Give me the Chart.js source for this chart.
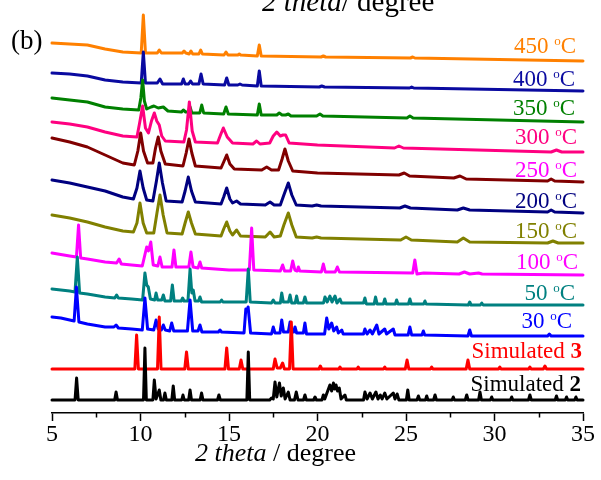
<!DOCTYPE html>
<html>
<head>
<meta charset="utf-8">
<script src="https://cdn.jsdelivr.net/npm/chart.js@4.4.1/dist/chart.umd.min.js"></script>
<style>
  html, body { margin: 0; padding: 0; background: #ffffff; }
  canvas { display: block; }
</style>
</head>
<body>
<canvas id="c" width="601" height="480"></canvas>
<script>
// PXRD patterns, stacked with a vertical offset (intensity in a.u.)
// each pattern is a list of [2theta, intensity] vertices

const xTickLabels = [5, 10, 15, 20, 25, 30, 35];

const sim2 = [
  [5,13],[6.3,13],[6.39,35],[6.48,13],
  [8.54,13],[8.62,21],[8.7,13],
  [10.17,13],[10.25,65],[10.33,13],
  [10.7,13],[10.78,33],[10.88,14],[11.06,23],[11.15,13],[11.3,13],[11.38,20],[11.46,13],
  [11.77,13],[11.85,27],[11.93,13],
  [12.33,13],[12.4,18],[12.47,13],[12.72,13],[12.8,23],[12.88,13],
  [13.37,13],[13.45,20],[13.53,13],
  [14.35,13],[14.43,18],[14.51,13],
  [16.01,13],[16.09,61],[16.17,13],
  [17.3,13],[17.4,15],[17.5,14],[17.6,31],[17.7,16],[17.85,30],[17.95,17],[18.07,25],[18.17,14],[18.35,21],[18.45,13],[18.7,13],[18.8,21],[18.9,13],
  [19.21,13],[19.29,18],[19.37,13],
  [19.78,13],[19.86,16],[19.94,13],
  [20.25,13],[20.33,18],[20.41,14],[20.7,28],[20.8,22],[20.9,30],[20.97,24],[21.05,28],[21.13,22],[21.23,25],[21.33,14],[21.55,18],[21.63,13],
  [22.6,13],[22.68,21],[22.8,14],[22.97,20],[23.1,14],[23.3,21],[23.42,14],[23.55,18],[23.65,14],[23.8,20],[23.92,14],[24.28,20],[24.38,14],[24.5,19],[24.6,13],
  [25.02,13],[25.1,23],[25.18,13],
  [25.62,13],[25.7,17],[25.78,13],
  [26.1,13],[26.17,17],[26.24,13],
  [26.56,13],[26.64,18],[26.72,13],
  [27.6,13],[27.67,16],[27.74,13],
  [28.35,13],[28.43,18],[28.51,13],
  [29.1,13],[29.18,21],[29.26,13],
  [29.77,13],[29.84,16],[29.91,13],
  [30.9,13],[30.97,16],[31.04,13],
  [31.92,13],[32.0,18],[32.08,13],
  [33.43,13],[33.5,17],[33.57,13],
  [34.0,13],[34.07,16],[34.14,13],
  [34.53,13],[34.6,16],[34.67,13],
  [35,13]
];

const sim3 = [
  [5,44],[9.68,44],[9.78,78],[9.88,44],
  [10.96,44],[11.06,96],[11.16,44],
  [12.5,44],[12.6,61],[12.7,44],
  [14.77,44],[14.87,65],[14.97,44],
  [15.58,44],[15.68,53],[15.78,44],
  [17.5,44],[17.6,54],[17.72,45],[17.9,45],[18.03,50],[18.13,44],
  [18.42,44],[18.52,91],[18.62,44],
  [20.08,44],[20.16,47],[20.24,44],
  [21.2,44],[21.27,46],[21.34,44],
  [22.23,44],[22.3,46],[22.37,44],
  [23.73,44],[23.8,46],[23.87,44],
  [24.96,44],[25.06,53],[25.16,44],
  [26.38,44],[26.45,46],[26.52,44],
  [28.4,44],[28.5,53],[28.6,44],
  [30.23,44],[30.3,46],[30.37,44],
  [31.93,44],[32.0,46],[32.07,44],
  [32.76,44],[32.85,47],[32.94,44],
  [35,44]
];

const t30 = [
  [5,96],[5.5,95],[6,93],[6.25,92],[6.38,126],[6.52,91],[7,89],[8,86],
  [8.5,86],[8.62,88],[8.75,85],[9.5,84],[10.1,83],[10.25,115],[10.4,84],
  [10.75,83],[10.88,93],[11.0,84],[11.18,83],[11.29,88],[11.4,83],[11.65,82],[11.76,90],[11.88,82],
  [12.65,82],[12.8,113],[12.95,82],[13.25,82],[13.36,88],[13.47,81],
  [14.4,81],[14.49,83],[14.58,81],
  [15.85,80],[15.95,104],[16.02,102],[16.08,106],[16.22,80],
  [17.4,79],[17.5,86],[17.6,80],[17.88,80],[17.98,93],[18.08,81],[18.35,81],[18.45,91],[18.55,82],[18.65,81],[18.73,86],[18.82,80],
  [19.2,80],[19.29,90],[19.38,79],
  [20.4,79],[20.52,95],[20.64,84],[20.8,90],[20.92,82],[21.08,86],[21.18,80],[21.37,83],[21.45,79],
  [22.6,79],[22.68,84],[22.8,79],[22.97,83],[23.1,79],[23.35,88],[23.47,79],[23.8,84],[23.9,79],[24.28,84],[24.38,78],
  [25.12,78],[25.22,86],[25.32,78],[25.9,78],[25.98,82],[26.06,78],
  [28.5,77],[28.6,83],[28.7,77],
  [33,77],[33.1,79],[33.2,77],
  [35,77]
];

const t50 = [
  [5,124],[6,122],[6.3,121],[6.43,156],[6.56,120],[7,119],[8,116],
  [8.55,115],[8.65,118],[8.75,115],[9.5,114],
  [10.12,113],[10.25,140],[10.35,128],[10.44,126],[10.56,114],
  [10.8,113],[10.88,120],[10.97,113],[11.2,113],[11.29,118],[11.38,112],
  [11.7,112],[11.8,128],[11.9,112],
  [12.3,112],[12.38,115],[12.46,112],
  [12.68,112],[12.8,144],[12.9,120],[12.98,123],[13.08,112],[13.28,112],[13.36,116],[13.45,111],
  [14.5,111],[14.58,113],[14.66,111],
  [15.97,111],[16.09,144],[16.2,111],
  [17.4,110],[17.5,113],[17.6,110],[17.9,110],[17.98,120],[18.07,111],[18.36,111],[18.45,118],[18.54,110],[18.74,110],[18.82,117],[18.9,110],[19.2,110],[19.29,116],[19.38,110],
  [20.34,110],[20.42,116],[20.55,111],[20.7,117],[20.82,111],[20.99,117],[21.1,110],[21.27,114],[21.36,110],
  [22.6,110],[22.68,115],[22.76,109],[23.2,109],[23.28,116],[23.37,109],[23.72,109],[23.8,114],[23.88,109],[24.4,109],[24.47,113],[24.55,109],
  [25.14,109],[25.22,114],[25.3,109],[26.0,109],[26.07,112],[26.14,109],
  [28.52,108],[28.6,111],[28.68,108],[29.2,108],[29.28,110],[29.36,108],
  [35,108]
];

const t100 = [
  [5,160],[6,157],[6.38,156],[6.5,188],[6.62,155],[7,154],[8,151],
  [8.65,150],[8.79,154],[8.92,149],[9.5,148],[10.1,147],[10.35,166],[10.45,162],[10.58,171],[10.72,148],
  [10.98,147],[11.1,156],[11.22,146],
  [11.78,146],[11.89,163],[12.0,146],
  [12.73,146],[12.85,161],[12.97,146],[13.25,145],[13.36,151],[13.46,145],
  [15,143],[16.15,143],[16.28,185],[16.4,143],
  [17.9,142],[18.03,148],[18.14,142],[18.48,142],[18.6,152],[18.72,143],[18.85,142],[18.92,146],[19.0,142],
  [20.22,141],[20.33,149],[20.44,141],[21.0,141],[21.12,146],[21.24,141],
  [25.38,140],[25.5,153],[25.62,139],[26,140],
  [28,139],[28.3,141],[28.6,139],[29.1,140],[29.3,139],
  [35,138]
];

const t150 = [
  [5,198],[6,195],[7,191],[8,186],[9,182],[9.6,181],[9.8,190],[9.97,210],[10.15,190],[10.35,180],
  [10.75,180],[10.93,200],[11.1,218],[11.28,198],[11.5,180],
  [12.35,179],[12.52,190],[12.7,201],[12.88,190],[13.1,179],
  [14.55,177],[14.7,184],[14.87,191],[15.05,182],[15.2,178],[15.43,183],[15.65,177],
  [17.05,176],[17.32,181],[17.55,176],[17.9,177],[18.1,188],[18.35,200],[18.55,188],[18.8,176],
  [19.7,175],[19.95,176],[20.2,175],
  [24.7,173],[25.0,176],[25.3,173],
  [27.9,171],[28.24,175],[28.6,171],
  [33.0,170],[33.3,172],[33.6,170],
  [35,170]
];

const t200 = [
  [5,233],[6,230],[7,226],[8,222],[9,216],[9.6,214],[9.8,225],[9.97,242],[10.15,225],[10.35,213],
  [10.7,212],[10.9,232],[11.06,250],[11.24,230],[11.45,212],
  [12.35,211],[12.52,222],[12.7,236],[12.88,222],[13.1,211],
  [14.55,209],[14.7,216],[14.87,225],[15.05,214],[15.2,210],[15.43,212],[15.65,209],
  [17.05,208],[17.32,211],[17.55,208],[17.9,208],[18.1,218],[18.35,230],[18.55,218],[18.8,208],
  [19.7,207],[19.95,208],[20.2,207],
  [24.65,205],[24.94,207],[25.25,205],
  [27.9,203],[28.24,205],[28.6,203],
  [33.0,201],[33.2,203],[33.4,201],
  [35,200]
];

const t250 = [
  [5,275],[6,271],[7,266],[8,258],[9,250],[9.65,248],[9.85,262],[10.01,280],[10.17,262],[10.4,250],
  [10.7,250],[10.85,265],[11.0,276],[11.15,262],[11.4,249],
  [12.4,247],[12.58,260],[12.74,274],[12.9,260],[13.1,247],
  [14.55,245],[14.7,251],[14.87,258],[15.05,249],[15.3,244],
  [16.85,243],[17.13,246],[17.4,243],
  [17.8,243],[18.0,254],[18.16,264],[18.35,252],[18.6,242],
  [20,240],[24.6,238],[24.9,240],[25.2,237],
  [27.7,235],[28.05,237],[28.4,234],
  [33.0,232],[33.2,234],[33.4,232],
  [35,231]
];

const t300 = [
  [5,291],[6,289],[7,286],[8,281],[9,277],[9.8,276],[9.95,290],[10.12,307],[10.28,285],[10.45,280],
  [10.62,292],[10.78,300],[10.92,292],[11.06,288],[11.2,277],[11.4,272],
  [12.45,271],[12.6,283],[12.76,311],[12.92,282],[13.1,271],
  [14.35,270],[14.52,278],[14.68,285],[14.9,276],[15.2,270],
  [16.35,269],[16.56,272],[16.75,269],
  [17.3,270],[17.5,277],[17.7,281],[17.9,277],[18.05,278],[18.2,278],[18.4,270],
  [20,268],[24.35,265],[24.6,267],[24.85,265],
  [33.2,261],[33.5,263],[33.8,261],
  [35,261]
];

const t350 = [
  [5,315],[6,313],[7,311],[8,306],[9,304],[9.9,303],[10.02,315],[10.12,333],[10.22,312],[10.35,304],
  [10.6,306],[10.76,307],[11.0,305],[11.29,306],[11.55,302],
  [12.32,301],[12.42,303],[12.55,301],[12.7,301],[12.8,306],[12.9,300],[13.35,300],[13.46,308],[13.57,300],
  [14.7,299],[14.83,306],[14.96,299],
  [16.6,298],[16.71,309],[16.82,298],
  [17.7,298],[17.84,300],[18.0,298],[18.2,298],[18.35,299],[18.5,297],
  [19.95,297],[20.14,299],[20.3,297],
  [25.05,295],[25.22,297],[25.4,295],
  [35,291]
];

const t400 = [
  [5,340],[6,339],[7,337],[8,333],[9,331],[10.04,330],[10.16,361],[10.28,330],
  [10.95,330],[11.1,334],[11.25,329],
  [12.32,329],[12.42,334],[12.52,329],[12.72,329],[12.83,332],[12.94,329],
  [13.3,329],[13.42,339],[13.54,329],
  [14.75,328],[14.87,335],[14.99,328],
  [15.5,328],[15.62,329],[15.74,328],
  [16.6,327],[16.71,342],[16.82,327],
  [20.1,326],[20.24,327],[20.4,326],
  [25.2,325],[25.32,326],[25.44,325],
  [35,322]
];

const t450 = [
  [5,370],[6,369],[7,368],[8,364],[9,361],[10.04,360],[10.16,398],[10.28,360],
  [10.95,360],[11.06,363],[11.18,360],
  [12.36,360],[12.46,362],[12.56,360],[12.75,359],[12.85,362],[12.95,359],
  [13.3,359],[13.4,363],[13.5,359],
  [14.72,358],[14.83,361],[14.94,358],
  [15.5,358],[15.58,359],[15.66,358],
  [16.6,357],[16.71,368],[16.82,357],
  [20.2,356],[20.33,357],[20.46,356],
  [25.25,355],[25.38,356],[25.5,355],
  [35,352]
];

// bottom to top
const seriesData = [sim2, sim3, t30, t50, t100, t150, t200, t250, t300, t350, t400, t450];
const seriesLabels = ['Simulated 2', 'Simulated 3', '30 °C', '50 °C', '100 °C', '150 °C',
                      '200 °C', '250 °C', '300 °C', '350 °C', '400 °C', '450 °C'];
const lineColors  = ['#000000', '#ff0000', '#0000ff', '#008080', '#ff00ff', '#808000',
                     '#000080', '#800000', '#ff0080', '#008000', '#0a0aa0', '#ff8000'];
const textColors  = ['#000000', '#ff0000', '#0000ff', '#008080', '#ff00ff', '#808000',
                     '#000080', '#ff00ff', '#ff0080', '#008000', '#0a0aa0', '#ff8000'];

const SERIF = "'Liberation Serif', 'Times New Roman', serif";

// right-hand labels: [right edge, baseline] in canvas pixels
const labelSpots = [[581, 391], [582, 358], [572, 328], [575, 300], [578, 269], [577, 238],
                    [577, 208], [577, 177], [577, 144], [575, 115], [575, 86], [576, 53]];

function drawSeriesLabel(ctx, text, right, base, color) {
  ctx.fillStyle = color;
  ctx.textBaseline = 'alphabetic';
  ctx.textAlign = 'left';
  const main = '23px ' + SERIF;
  const bold = 'bold 23px ' + SERIF;
  const sup = '13px ' + SERIF;
  if (text.startsWith('Simulated')) {
    const head = 'Simulated ';
    const tail = text.slice(head.length);
    ctx.font = main; const w1 = ctx.measureText(head).width;
    ctx.font = bold; const w2 = ctx.measureText(tail).width;
    let x = right - w1 - w2;
    ctx.font = main; ctx.fillText(head, x, base);
    ctx.font = bold; ctx.fillText(tail, x + w1, base);
  } else {
    const num = text.replace(' °C', '') + ' ';
    ctx.font = main; const w1 = ctx.measureText(num).width;
    const wc = ctx.measureText('C').width;
    ctx.font = sup; const wo = ctx.measureText('o').width;
    let x = right - w1 - wo - wc;
    ctx.font = main; ctx.fillText(num, x, base);
    ctx.font = sup; ctx.fillText('o', x + w1, base - 8);
    ctx.font = main; ctx.fillText('C', x + w1 + wo, base);
  }
}

function drawMixed(ctx, parts, x, base) {
  // parts: [text, font]
  let cx = x;
  for (const [t, f] of parts) {
    ctx.font = f;
    ctx.fillText(t, cx, base);
    cx += ctx.measureText(t).width;
  }
}

const decorations = {
  id: 'decorations',
  afterDraw(chart) {
    const ctx = chart.ctx;
    const xs = chart.scales.x;
    ctx.save();
    // minor ticks halfway between the labelled ones
    ctx.strokeStyle = '#000';
    ctx.lineWidth = 1.5;
    const tk = xs.ticks;
    for (let i = 0; i < tk.length - 1; i++) {
      const px = Math.round(xs.getPixelForValue((tk[i].value + tk[i + 1].value) / 2)) + 0.5;
      ctx.beginPath();
      ctx.moveTo(px, xs.top);
      ctx.lineTo(px, xs.top + 4.5);
      ctx.stroke();
    }
    // series names at the right end of each pattern
    seriesLabels.forEach((s, i) => {
      drawSeriesLabel(ctx, s, labelSpots[i][0], labelSpots[i][1], textColors[i]);
    });
    ctx.fillStyle = '#000';
    ctx.textBaseline = 'alphabetic';
    ctx.textAlign = 'left';
    // panel letter
    ctx.font = '27px ' + SERIF;
    ctx.fillText('(b)', 11, 49);
    // axis title
    drawMixed(ctx, [['2 theta', 'italic 26px ' + SERIF], [' / degree', '26px ' + SERIF]], 195, 461);
    // axis title of the panel above, cut by the top edge
    drawMixed(ctx, [['2 theta', 'italic 29px ' + SERIF], ['/ degree', '29px ' + SERIF]], 262, 11);
    ctx.restore();
  }
};

const datasets = seriesData.map((pts, i) => ({
  label: seriesLabels[i],
  data: pts.map(([x, y]) => ({ x, y })),
  borderColor: lineColors[i],
  backgroundColor: lineColors[i],
  borderWidth: 3,
  pointRadius: 0,
  tension: 0,
  borderJoinStyle: 'round',
  borderCapStyle: 'round',
  clip: false
}));

new Chart(document.getElementById('c'), {
  type: 'line',
  data: { datasets },
  options: {
    responsive: false,
    animation: false,
    devicePixelRatio: 1,
    layout: { padding: { left: 52, right: 18, top: 13, bottom: 27 } },
    plugins: { legend: { display: false }, title: { display: false }, tooltip: { enabled: false } },
    scales: {
      x: {
        type: 'linear',
        min: 5,
        max: 35,
        afterBuildTicks: (scale) => { scale.ticks = xTickLabels.map(v => ({ value: v })); },
        afterFit: (scale) => { scale.height = 40; },
        ticks: {
          color: '#000',
          padding: -1,
          font: { family: SERIF, size: 24, lineHeight: 1.2 },
          maxRotation: 0,
          callback: (v) => String(v)
        },
        grid: { display: true, drawOnChartArea: false, drawTicks: true, tickLength: 8, tickColor: '#000', tickWidth: 1.5 },
        border: { display: true, color: '#000', width: 1.5 }
      },
      y: {
        type: 'linear',
        display: false,
        min: 0,
        max: 400
      }
    }
  },
  plugins: [decorations]
});
</script>
</body>
</html>
